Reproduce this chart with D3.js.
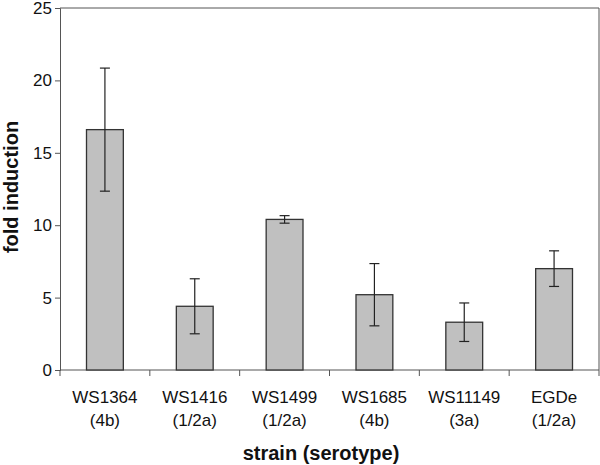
<!DOCTYPE html>
<html>
<head>
<meta charset="utf-8">
<script src="https://cdn.jsdelivr.net/npm/d3@7"></script>
<style>
  body { margin: 0; background: #fff; }
  text { font-family: "Liberation Sans", Arial, sans-serif; fill: #111; }
</style>
</head>
<body>
<div id="chart"></div>
<script>
const strains = ["WS1364", "WS1416", "WS1499", "WS1685", "WS11149", "EGDe"];
const serotypes = ["(4b)", "(1/2a)", "(1/2a)", "(4b)", "(3a)", "(1/2a)"];
const foldInduction = [16.6, 4.4, 10.4, 5.2, 3.3, 7.0];
const errors = [4.25, 1.9, 0.26, 2.15, 1.33, 1.23];
const yTicks = [0, 5, 10, 15, 20, 25];

const W = 600, H = 465;
const plotLeft = 60, plotRight = 599, plotTop = 8, plotBottom = 370;

const svg = d3.select("#chart")
.append("svg")
.attr("width", W)
.attr("height", H);

const x = d3.scaleBand()
.domain(strains)
.range([plotLeft, plotRight])
.paddingInner(0.59)
.paddingOuter(0.295);

const xBounds = d3.scaleLinear()
.domain([0, strains.length])
.range([plotLeft, plotRight]);

const yScale = d3.scaleLinear()
.domain([0, 25])
.range([plotBottom, plotTop]);

// plot frame (top and right lines)
svg.append("path")
.attr("d", `M${plotLeft},${plotTop}H${plotRight}V${plotBottom}`)
.attr("fill", "none")
.attr("stroke", "#555")
.attr("stroke-width", 1);

// y axis
const yAxis = svg.append("g")
.attr("transform", `translate(${plotLeft},0)`)
.call(d3.axisLeft(yScale).tickValues(yTicks).tickSize(5).tickPadding(3));
yAxis.select(".domain").attr("stroke", "#555");
yAxis.selectAll(".tick line").attr("stroke", "#555");
yAxis.selectAll(".tick text")
.attr("font-size", 17)
.attr("fill", "#111")
.attr("font-family", "Liberation Sans, Arial, sans-serif");

// x axis line and category boundary ticks
svg.append("line")
.attr("x1", plotLeft).attr("x2", plotRight)
.attr("y1", plotBottom).attr("y2", plotBottom)
.attr("stroke", "#555");
svg.selectAll(".xtick")
.data(d3.range(0, strains.length + 1))
.join("line")
.attr("class", "xtick")
.attr("x1", d => xBounds(d)).attr("x2", d => xBounds(d))
.attr("y1", plotBottom).attr("y2", plotBottom + 6)
.attr("stroke", "#555");

// bars
svg.selectAll(".bar")
.data(strains)
.join("rect")
.attr("class", "bar")
.attr("x", d => x(d))
.attr("width", x.bandwidth())
.attr("y", (d, i) => yScale(foldInduction[i]))
.attr("height", (d, i) => plotBottom - yScale(foldInduction[i]))
.attr("fill", "#c0c0c0")
.attr("stroke", "#333")
.attr("stroke-width", 1.3);

// error bars
const cap = 5;
const eb = svg.selectAll(".err")
.data(strains)
.join("g")
.attr("class", "err")
.attr("stroke", "#222")
.attr("stroke-width", 1.2);
eb.append("line")
.attr("x1", d => x(d) + x.bandwidth() / 2)
.attr("x2", d => x(d) + x.bandwidth() / 2)
.attr("y1", (d, i) => yScale(foldInduction[i] + errors[i]))
.attr("y2", (d, i) => yScale(foldInduction[i] - errors[i]));
eb.append("line")
.attr("x1", d => x(d) + x.bandwidth() / 2 - cap)
.attr("x2", d => x(d) + x.bandwidth() / 2 + cap)
.attr("y1", (d, i) => yScale(foldInduction[i] + errors[i]))
.attr("y2", (d, i) => yScale(foldInduction[i] + errors[i]));
eb.append("line")
.attr("x1", d => x(d) + x.bandwidth() / 2 - cap)
.attr("x2", d => x(d) + x.bandwidth() / 2 + cap)
.attr("y1", (d, i) => yScale(foldInduction[i] - errors[i]))
.attr("y2", (d, i) => yScale(foldInduction[i] - errors[i]));

// category labels
const lab = svg.selectAll(".xlabel")
.data(strains)
.join("text")
.attr("class", "xlabel")
.attr("text-anchor", "middle")
.attr("font-size", 17)
.attr("x", d => x(d) + x.bandwidth() / 2);
lab.append("tspan")
.attr("x", d => x(d) + x.bandwidth() / 2)
.attr("y", 403)
.text(d => d);
lab.append("tspan")
.attr("x", d => x(d) + x.bandwidth() / 2)
.attr("y", 426)
.text((d, i) => serotypes[i]);

// axis titles
svg.append("text")
.attr("x", 321)
.attr("y", 460)
.attr("text-anchor", "middle")
.attr("font-size", 20)
.attr("font-weight", "bold")
.text("strain (serotype)");

svg.append("text")
.attr("transform", "translate(18,187) rotate(-90)")
.attr("text-anchor", "middle")
.attr("font-size", 20)
.attr("font-weight", "bold")
.text("fold induction");
</script>
</body>
</html>
